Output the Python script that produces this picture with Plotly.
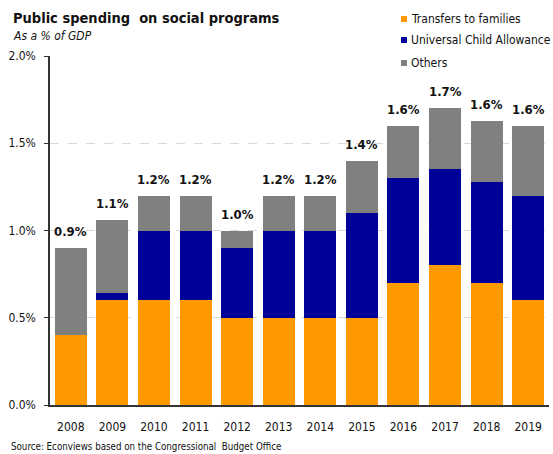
import plotly.graph_objects as go

years = ["2008", "2009", "2010", "2011", "2012", "2013",
         "2014", "2015", "2016", "2017", "2018", "2019"]
transfers = [0.40, 0.60, 0.60, 0.60, 0.50, 0.50, 0.50, 0.50, 0.70, 0.80, 0.70, 0.60]
uca = [0.00, 0.04, 0.40, 0.40, 0.40, 0.50, 0.50, 0.60, 0.60, 0.55, 0.58, 0.60]
others = [0.50, 0.42, 0.20, 0.20, 0.10, 0.20, 0.20, 0.30, 0.30, 0.35, 0.35, 0.40]
y_ticks = [0.0, 0.5, 1.0, 1.5, 2.0]

FONT = "DejaVu Sans Condensed, DejaVu Sans, sans-serif"
W, H = 553, 454
ML, MR, MT, MB = 50, 4, 56, 49
PW, PH = W - ML - MR, H - MT - MB


def px_x(px):
    return (px - ML) / PW


def px_y(py):
    return (H - MB - py) / PH


totals = [a + b + c for a, b, c in zip(transfers, uca, others)]

fig = go.Figure()
series = [("Transfers to families", transfers, "#FF9900"),
          ("Universal Child Allowance", uca, "#000099"),
          ("Others", others, "#808080")]
for name, vals, col in series:
    fig.add_trace(go.Bar(x=years, y=vals, name=name,
                         marker=dict(color=col, line=dict(width=0))))

# total labels above each stacked bar (category index as x position)
for i, t in enumerate(totals):
    fig.add_annotation(x=i, y=t, text=f"<b>{t:.1f}%</b>", showarrow=False,
                       yanchor="bottom", yshift=7,
                       font=dict(family=FONT, size=13, color="#111111"))

# legend: small square swatches with labels, top right
for (name, _, col), cy in zip(series, [19, 40, 63]):
    fig.add_shape(type="rect", xref="paper", yref="paper",
                  x0=px_x(401), x1=px_x(407), y0=px_y(cy + 3), y1=px_y(cy - 3),
                  fillcolor=col, line=dict(width=0))
    fig.add_annotation(xref="paper", yref="paper", x=px_x(409), y=px_y(cy),
                       xanchor="left", yanchor="middle", showarrow=False,
                       text=name,
                       font=dict(family=FONT, size=12, color="#111111"))

fig.add_annotation(xref="paper", yref="paper", x=px_x(11), y=px_y(17.5),
                   xanchor="left", yanchor="middle", showarrow=False,
                   text="<b>Public spending  on social programs</b>",
                   font=dict(family=FONT, size=14.5, color="#111111"))
fig.add_annotation(xref="paper", yref="paper", x=px_x(11), y=px_y(36),
                   xanchor="left", yanchor="middle", showarrow=False,
                   text="<i>As a % of GDP</i>",
                   font=dict(family=FONT, size=12, color="#111111"))
fig.add_annotation(xref="paper", yref="paper", x=px_x(9), y=px_y(446),
                   xanchor="left", yanchor="middle", showarrow=False,
                   text="Source: Econviews based on the Congressional  Budget Office",
                   font=dict(family=FONT, size=9.7, color="#111111"))

fig.update_layout(
    barmode="stack",
    bargap=0.23,
    width=W, height=H,
    margin=dict(l=ML, r=MR, t=MT, b=MB),
    paper_bgcolor="white", plot_bgcolor="white",
    font=dict(family=FONT, size=12, color="#111111"),
    showlegend=False,
)
fig.update_xaxes(type="category", range=[-0.5, len(years) - 0.5],
                 showline=True, linecolor="#333333",
                 linewidth=1.5, ticks="", ticklabelstandoff=10,
                 tickfont=dict(family=FONT, size=12, color="#111111"))
fig.update_yaxes(range=[0, 2.0], tickvals=y_ticks,
                 ticktext=[f"{v:.1f}%" for v in y_ticks],
                 showline=True, linecolor="#333333", linewidth=1.5,
                 ticks="outside", ticklen=4, tickcolor="#333333",
                 ticklabelstandoff=6,
                 showgrid=True, gridcolor="#d9d9d9", griddash="dash",
                 zeroline=False,
                 tickfont=dict(family=FONT, size=12, color="#111111"))

fig.write_html("out.html")
